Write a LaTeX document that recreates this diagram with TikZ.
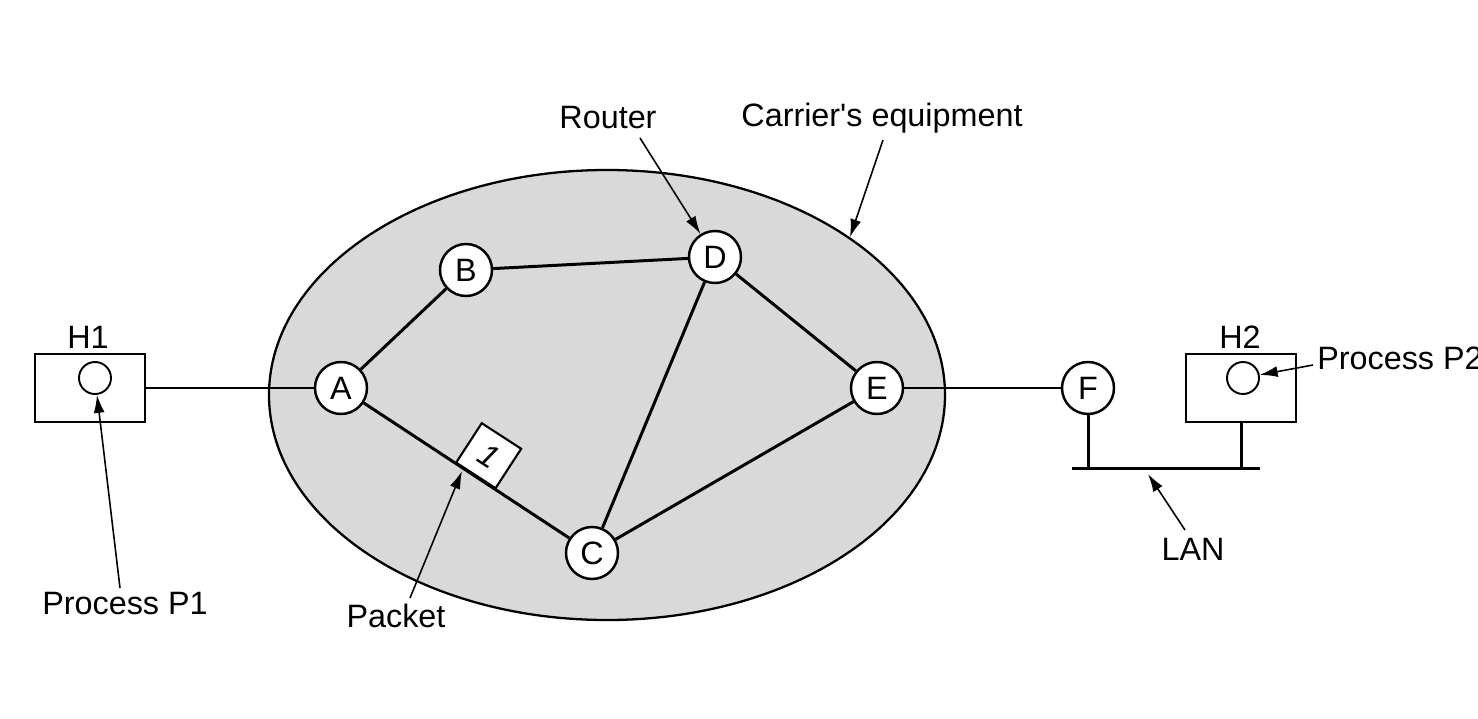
\documentclass[tikz,border=0pt]{standalone}
\usepackage{fontspec}
\setmainfont{Liberation Sans}[Ligatures=TeXOff]
\usetikzlibrary{calc,shapes.geometric,arrows.meta}

\begin{document}
\begin{tikzpicture}
  [x=0.2mm,y=-0.2mm,font=\fontsize{18.4}{22}\selectfont,
   every node/.style={inner sep=0pt}]
 \tikzset{EdgeStyle/.style={line width=1.7pt},
  ArrowStyle/.style={-{Latex[length=3.6mm,width=2.2mm]},line width=0.9pt},
  router/.style={circle,draw,line width=1.4pt,fill=white,minimum size=10.4mm},
  host/.style={rectangle,draw,line width=1.2pt,fill=white,minimum width=22mm,minimum height=13.6mm},
  proc/.style={circle,draw,line width=1.1pt,minimum size=6.4mm},
  packet/.style={rectangle,draw,line width=1.2pt,fill=white,minimum size=9.4mm}}
 \useasboundingbox (0,0) rectangle (1478,718);

 \node[ellipse,draw,line width=1.3pt,fill=gray!30,minimum width=135.2mm,minimum height=90mm] (carrier) at (607,395) {};

  \node[router] (A) at (341,388) {A};
 \node[router] (B) at (466,270) {B};
  \node[router] (D) at (715,257) {D};
 \node[router] (E) at (877,388) {E};
  \node[router] (C) at (592,553) {C};
  \node[router] (F) at (1088,388) {F};

 \node[host] (h1) at (90,388) {};
 \node[proc] (p1) at (95,378) {};
 \node (h1lab) at (88,337) {H1};
 \node[host] (h2) at (1241,388) {};
 \node[proc] (p2) at (1243,378) {};
 \node (h2lab) at (1240,337) {H2};

 \foreach \from/\to in {A/B,B/D,D/E,D/C,A/C,C/E,h1/A,E/F}
    \draw[EdgeStyle] (\from) -- (\to);

 \node[packet,rotate=-33,anchor=south] (pkt) at ($(A)!0.535!(C)$) {\textit{1}};

 % LAN
 \coordinate (lanL) at (1072,468);
 \coordinate (lanR) at (1260,468);
 \draw[EdgeStyle] (lanL) -- (lanR);
 \draw[EdgeStyle] (F) -- (F |- lanL);
 \draw[EdgeStyle] (h2) -- (h2 |- lanL);

 % labels
 \node (router) at (608,118) {Router};
 \node (equip) at (882,118) {Carrier's equipment};
 \node (proc1) at (125,604) {Process P1};
 \node (pktlab) at (396,616) {Packet};
 \node (lan) at (1193,549) {LAN};
 \node[anchor=west] (proc2) at (1317,358) {Process P2};

 \coordinate (routerT) at (640,138);
 \coordinate (equipT) at (883,140);
 \coordinate (proc1T) at (120,588);
 \coordinate (pktT) at (410,598);
 \coordinate (pktH) at (462,471);
 \coordinate (lanT) at (1185,530);
 \coordinate (lanH) at (1148,474);
 \coordinate (proc2T) at (1313,365);

 \draw[ArrowStyle] (routerT) -- (D);
 \draw[ArrowStyle] (equipT) -- (carrier.33);
 \draw[ArrowStyle] (proc1T) -- (p1);
 \draw[ArrowStyle] (pktT) -- (pktH);
 \draw[ArrowStyle] (lanT) -- (lanH);
 \draw[ArrowStyle] (proc2T) -- (p2);

\end{tikzpicture}
\end{document}
